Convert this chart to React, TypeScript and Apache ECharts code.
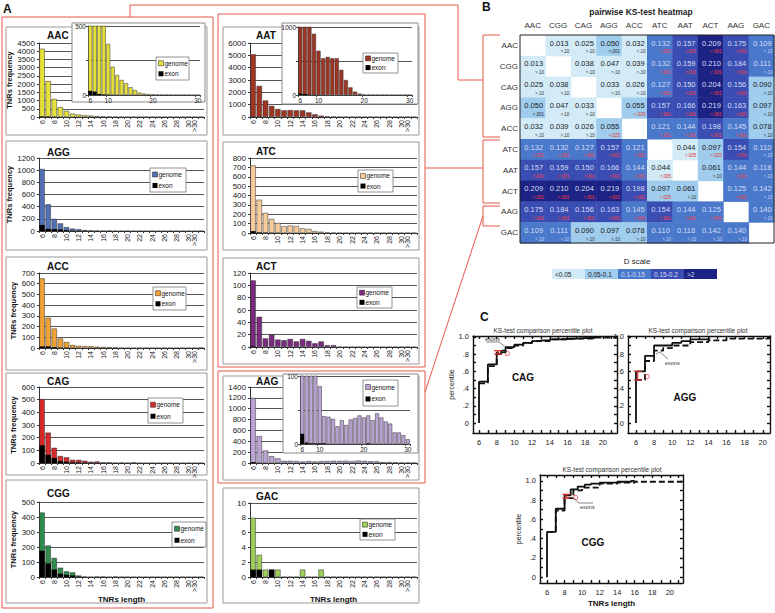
import React, { useEffect, useRef } from "react";
import * as echarts from "echarts";

const FONT = "'Liberation Sans', Arial, sans-serif";
const RED = "#e4564a";

// ---------------- DATA ----------------
const LENGTHS = ["6","7","8","9","10","11","12","13","14","15","16","17","18","19","20","21","22","23","24","25","26","27","28","29","30",">30",">40"];
const INSET_LENGTHS = LENGTHS.slice(0, 25);

const AAC_GENOME = [4150,2180,1100,600,370,205,145,109,85,56,36,17,10,6,4,3,2,1,1,0,0,1,0,0,0,0,0];
const AAC_EXON = [30,25,8,4,2,1,0,0,0,0,0,0,0,0,0,0,0,0,0,0,0,0,0,0,0,0,0];
const AGG_GENOME = [1020,440,200,125,65,40,30,15,10,8,5,8,3,0,2,0,0,0,0,0,0,0,0,0,0,0,0];
const AGG_EXON = [100,35,30,25,12,5,3,2,1,0,0,0,0,0,0,0,0,0,0,0,0,0,0,0,0,0,0];
const ACC_GENOME = [650,282,182,88,56,28,20,18,17,12,10,8,6,0,0,0,0,0,0,0,0,0,0,0,0,0,4];
const ACC_EXON = [15,15,8,3,2,1,0,0,0,0,0,0,0,0,0,0,0,0,0,0,0,0,0,0,0,0,0];
const CAG_GENOME = [505,240,120,55,45,25,25,18,10,12,5,5,2,4,1,5,0,0,0,0,0,0,0,0,0,0,0];
const CAG_EXON = [140,65,40,15,10,5,4,3,2,2,1,1,0,0,0,0,0,0,0,0,0,0,0,0,0,0,0];
const CGG_GENOME = [430,210,127,62,38,31,10,3,0,3,3,0,3,0,0,0,0,0,0,0,0,0,0,0,0,0,0];
const CGG_EXON = [175,90,50,22,15,10,3,0,0,0,0,0,0,0,0,0,0,0,0,0,0,0,0,0,0,0,0];
const AAT_GENOME = [5090,2520,1340,900,650,540,560,540,540,370,220,112,50,20,8,5,3,2,1,1,0,0,0,0,0,0,0];
const AAT_EXON = [20,15,5,3,2,1,0,0,0,0,0,0,0,0,0,0,0,0,0,0,0,0,0,0,0,0,0];
const ATC_GENOME = [720,355,215,150,108,72,79,75,50,43,21,14,5,2,0,0,0,0,0,0,0,0,0,0,0,0,0];
const ATC_EXON = [20,6,3,2,1,0,0,0,0,0,0,0,0,0,0,0,0,0,0,0,0,0,0,0,0,0,0];
const ACT_GENOME = [108,49,14,20,12,11,13,9,13,10,6,9,3,3,0,0,0,0,0,0,0,0,0,0,0,0,0];
const ACT_EXON = [1,0,0,0,0,0,0,0,0,0,0,0,0,0,0,0,0,0,0,0,0,0,0,0,0,0,0];
const AAG_GENOME = [1200,495,230,124,85,41,40,37,26,35,28,36,38,42,39,42,35,45,39,33,30,17,17,13,7,6,4];
const AAG_EXON = [15,2,1,1,1,1,0,0,0,0,0,0,0,0,0,1,0,0,0,0,0,0,0,0,0,0,0];
const GAC_GENOME = [8,3,1,1,1,0,0,0,1,0,0,1,0,0,0,0,0,0,0,0,0,0,0,0,0,0,0];
const GAC_EXON = [1,1,0,1,0,0,0,0,0,0,0,0,0,0,0,0,0,0,0,0,0,0,0,0,0,0,0];

const HEAT_LABELS = ["AAC","CGG","CAG","AGG","ACC","ATC","AAT","ACT","AAG","GAC"];
const HEAT_D = [
  [null,0.013,0.025,0.050,0.032,0.132,0.157,0.209,0.175,0.109],
  [0.013,null,0.038,0.047,0.039,0.132,0.159,0.210,0.184,0.111],
  [0.025,0.038,null,0.033,0.026,0.127,0.150,0.204,0.156,0.090],
  [0.050,0.047,0.033,null,0.055,0.157,0.166,0.219,0.163,0.097],
  [0.032,0.039,0.026,0.055,null,0.121,0.144,0.198,0.145,0.078],
  [0.132,0.132,0.127,0.157,0.121,null,0.044,0.097,0.154,0.110],
  [0.157,0.159,0.150,0.166,0.144,0.044,null,0.061,0.144,0.118],
  [0.209,0.210,0.204,0.219,0.198,0.097,0.061,null,0.125,0.142],
  [0.175,0.184,0.156,0.163,0.145,0.154,0.144,0.125,null,0.140],
  [0.109,0.111,0.090,0.097,0.078,0.110,0.118,0.142,0.140,null],
];
const HEAT_P = [
  ["",">.10",">.10","<.001",">.10","<.001","<.001","<.001","<.001",">.10"],
  [">.10","",">.10",">.10",">.10","<.001","<.001","<.001","<.001",">.10"],
  [">.10",">.10","",">.10",">.10","<.001","<.001","<.001","<.001",">.10"],
  ["<.001",">.10",">.10","","<.025","<.001","<.001","<.001","<.001",">.10"],
  [">.10",">.10",">.10","<.025","","<.001","<.001","<.001","<.001",">.10"],
  ["<.001","<.001","<.001","<.001","<.001","","<.005","<.025","<.001",">.10"],
  ["<.001","<.001","<.001","<.001","<.001","<.005","",">.10","<.001",">.10"],
  ["<.001","<.001","<.001","<.001","<.001","<.025",">.10","","<.001",">.10"],
  ["<.001","<.001","<.001","<.001","<.001","<.001","<.001","<.001","",">.10"],
  [">.10",">.10",">.10",">.10",">.10",">.10",">.10",">.10",">.10",""],
];
const D_SCALE_LABELS = ["<0.05","0.05-0.1","0.1-0.15","0.15-0.2",">2"];

const CAG_GEN_X = [6,6,7,8,8.5,9,10,11,12,13,14,15,16,17,18,19,19.5];
const CAG_GEN_Y = [0,0.48,0.68,0.80,0.84,0.88,0.91,0.93,0.95,0.96,0.97,0.975,0.98,0.985,0.99,1.0,1.0];
const CAG_EXO_X = [6,7,8,9,10,11,12,14,16,19,21.4];
const CAG_EXO_Y = [0.46,0.66,0.82,0.87,0.90,0.93,0.95,0.97,0.98,0.99,1.0];
const AGG_GEN_X = [6,6,7,8,10,11,12,14,14.2];
const AGG_GEN_Y = [0,0.60,0.78,0.90,0.93,0.95,0.97,0.98,0.98];
const AGG_EXO_X = [6,7,8,9,10,12,14,16,20.7];
const AGG_EXO_Y = [0.50,0.72,0.84,0.87,0.90,0.94,0.96,0.98,0.99];
const CGG_GEN_X = [6,6,7,8,8.7,9.5,10.3,11,12,14,15.6,16];
const CGG_GEN_Y = [0,0.47,0.71,0.85,0.91,0.94,0.96,0.97,0.98,0.99,1.0,1.0];
const CGG_EXO_X = [6,7,8,9,10,12,14,16,21.4];
const CGG_EXO_Y = [0.47,0.69,0.82,0.90,0.93,0.97,0.98,0.99,0.995];
const CDF_X_LABELS = [6,8,10,12,14,16,18,20];
const CDF_X_TICKS = [6,7,8,9,10,11,12,13,14,15,16,17,18,19,20,21];
const CDF_Y_LABELS = [0,0.2,0.4,0.6,0.8,1.0];
const CDF_Y_TICKS = [0,0.1,0.2,0.3,0.4,0.5,0.6,0.7,0.8,0.9,1.0];

// ---------------- LAYOUT ----------------
const BAR_CHARTS: any[] = [
  { key: "AAC", color: "#e6e03a", genome: AAC_GENOME, exon: AAC_EXON, yMax: 4500, yStep: 500, col: 0, box: [6,27,201,108], top: 43, zero: 117, titleY: 35,
    inset: { box: [72,23,133,79], left: 88, right: 200, top: 26, zero: 95, max: 500, legend: [156,57,33,23] } },
  { key: "AGG", color: "#5170b5", genome: AGG_GENOME, exon: AGG_EXON, yMax: 1200, yStep: 200, col: 0, box: [6,141,201,109], top: 158, zero: 231, titleY: 152, legend: [150,168,36,24] },
  { key: "ACC", color: "#f0a235", genome: ACC_GENOME, exon: ACC_EXON, yMax: 700, yStep: 100, col: 0, box: [6,257,201,113], top: 273, zero: 348, titleY: 266, legend: [153,287,33,23] },
  { key: "CAG", color: "#d8282a", genome: CAG_GENOME, exon: CAG_EXON, yMax: 600, yStep: 100, col: 0, box: [6,373,201,102], top: 387, zero: 463, titleY: 381, legend: [148,398,35,25] },
  { key: "CGG", color: "#2e8c4c", genome: CGG_GENOME, exon: CGG_EXON, yMax: 500, yStep: 100, col: 0, box: [6,480,201,123], top: 502, zero: 577, titleY: 493, legend: [172,522,34,25], xName: true },
  { key: "AAT", color: "#9e3523", genome: AAT_GENOME, exon: AAT_EXON, yMax: 6000, yStep: 1000, col: 1, box: [223,27,196,108], top: 43, zero: 117, titleY: 35,
    inset: { box: [282,23,136,81], left: 298, right: 412, top: 27, zero: 95, max: 1000, legend: [363,53,35,20] } },
  { key: "ATC", color: "#f6cc9c", genome: ATC_GENOME, exon: ATC_EXON, yMax: 800, yStep: 100, col: 1, box: [223,142,196,108], top: 158, zero: 233, titleY: 151, legend: [358,170,35,22] },
  { key: "ACT", color: "#7a2a7e", genome: ACT_GENOME, exon: ACT_EXON, yMax: 120, yStep: 20, col: 1, box: [223,258,196,106], top: 273, zero: 347, titleY: 266, legend: [357,287,35,21] },
  { key: "AAG", color: "#baa4d4", genome: AAG_GENOME, exon: AAG_EXON, yMax: 1400, yStep: 200, col: 1, box: [223,376,196,104], top: 387, zero: 463, titleY: 381,
    inset: { box: [283,374,135,79], left: 300, right: 410, top: 376, zero: 444, max: 100, legend: [363,380,35,26] } },
  { key: "GAC", color: "#9fcf58", genome: GAC_GENOME, exon: GAC_EXON, yMax: 10, yStep: 2, col: 1, box: [223,488,196,115], top: 503, zero: 577, titleY: 496, legend: [360,519,35,21], xName: true },
];

const CDF_PLOTS: any[] = [
  { key: "CAG", grid: [473,336,144,97], xMin: 5.32, xMax: 21.6, yMin: -0.116, yMax: 1.01, gx: CAG_GEN_X, gy: CAG_GEN_Y, ex: CAG_EXO_X, ey: CAG_EXO_Y, d: [8.15,0.80,0.84], label: [523,377], title: [543,330], yName: true },
  { key: "AGG", grid: [628,336,142,97], xMin: 5.12, xMax: 20.8, yMin: -0.116, yMax: 1.01, gx: AGG_GEN_X, gy: AGG_GEN_Y, ex: AGG_EXO_X, ey: AGG_EXO_Y, d: [6.2,0.50,0.60], label: [685,397], title: [698,330] },
  { key: "CGG", grid: [540,475,143,108], xMin: 5.2, xMax: 21.5, yMin: -0.06, yMax: 1.06, gx: CGG_GEN_X, gy: CGG_GEN_Y, ex: CGG_EXO_X, ey: CGG_EXO_Y, d: [8.2,0.82,0.86], label: [593,542], title: [612,469], yName: true, xName: true },
];

// ---------------- HELPERS ----------------
const txt = (text: string, x: number, y: number, o: any = {}) => ({
  type: "text", x, y, z: o.z ?? 20, silent: true, rotation: o.rotation ?? 0,
  style: { text, fill: o.color ?? "#111", font: o.font ?? `8px ${FONT}`, textAlign: o.align ?? "left", textVerticalAlign: o.va ?? "middle" },
});
const rect = (x: number, y: number, w: number, h: number, o: any = {}) => ({
  type: "rect", z: o.z ?? 0, silent: true, shape: { x, y, width: w, height: h },
  style: { fill: o.fill ?? "#fff", stroke: o.stroke ?? "none", lineWidth: o.lw ?? 1 },
});
const poly = (points: number[][], o: any = {}) => ({
  type: "polyline", z: o.z ?? 30, silent: true, shape: { points },
  style: { fill: "none", stroke: o.stroke ?? RED, lineWidth: o.lw ?? 1 },
});

function legendEls(l: number[], color: string, z: number) {
  const [x, y, w, h] = l;
  const r1 = y + h * 0.27, r2 = y + h * 0.73;
  return [
    rect(x, y, w, h, { stroke: "#777", lw: 0.8, z }),
    rect(x + 2.5, r1 - 2.5, 5, 5, { fill: color, stroke: "#222", lw: 0.5, z: z + 1 }),
    txt("genome", x + 8.5, r1, { font: `6.5px ${FONT}`, z: z + 1 }),
    rect(x + 2.5, r2 - 2.5, 5, 5, { fill: "#000", z: z + 1 }),
    txt("exon", x + 8.5, r2, { font: `6.5px ${FONT}`, z: z + 1 }),
  ];
}

function dColor(v: number) {
  if (v < 0.05) return "#d3ebf7";
  if (v < 0.1) return "#a0cdee";
  if (v < 0.15) return "#4a78cb";
  if (v < 0.2) return "#3a4db2";
  return "#1c2384";
}

function buildOption() {
  const grid: any[] = [], xAxis: any[] = [], yAxis: any[] = [], series: any[] = [], graphic: any[] = [];

  // ---- panel A bar charts ----
  BAR_CHARTS.forEach((s) => {
    const left = s.col === 0 ? 39 : 250;
    const right = s.col === 0 ? 204 : 417;
    graphic.push(rect(s.box[0], s.box[1], s.box[2], s.box[3], { stroke: "#9a9a9a", lw: 1, z: -5 }));
    graphic.push(txt(s.key, s.col === 0 ? 47 : 256, s.titleY, { font: `bold 10px ${FONT}`, z: 4 }));
    if (s.legend) graphic.push(...legendEls(s.legend, s.color, 12));
    const gi = grid.length;
    grid.push({ left, top: s.top, width: right - left, height: s.zero - s.top });
    xAxis.push({
      gridIndex: gi, type: "category", data: LENGTHS, z: 1,
      axisLine: { lineStyle: { color: "#333", width: 1 } },
      axisTick: { show: true, interval: 0, length: 2, lineStyle: { color: "#333" } },
      axisLabel: { rotate: 90, fontSize: 7, color: "#222", fontFamily: FONT, margin: 3, interval: (i: number) => i % 2 === 0 || i >= 25 },
      name: s.xName ? "TNRs length" : "", nameLocation: "middle", nameGap: 17,
      nameTextStyle: { fontWeight: "bold", fontSize: 8, color: "#111", fontFamily: FONT },
    });
    yAxis.push({
      gridIndex: gi, type: "value", min: 0, max: s.yMax, interval: s.yStep, z: 1,
      axisLine: { show: true, lineStyle: { color: "#333" } },
      axisTick: { show: true, length: 2, lineStyle: { color: "#333" } },
      splitLine: { lineStyle: { color: "#555", width: 1 } },
      axisLabel: { fontSize: 8, margin: 4, color: "#222", fontFamily: FONT, formatter: (v: number) => String(v) },
      name: s.col === 0 ? "TNRs frequency" : "", nameLocation: "middle", nameRotate: 90, nameGap: 22,
      nameTextStyle: { fontWeight: "bold", fontSize: 7.5, color: "#111", fontFamily: FONT },
    });
    series.push({ type: "bar", name: s.key + " genome", xAxisIndex: gi, yAxisIndex: gi, data: s.genome, barCategoryGap: "12%", z: 2,
      itemStyle: { color: s.color, borderColor: "#333", borderWidth: 0.5 } });
    series.push({ type: "bar", name: s.key + " exon", xAxisIndex: gi, yAxisIndex: gi, data: s.exon, barGap: "-100%", barCategoryGap: "12%", z: 3,
      itemStyle: { color: "#000" } });

    if (s.inset) {
      const n = s.inset;
      graphic.push(rect(n.box[0], n.box[1], n.box[2], n.box[3], { stroke: "#8a8a8a", lw: 1, z: 5 }));
      graphic.push(...legendEls(n.legend, s.color, 14));
      const ii = grid.length;
      grid.push({ left: n.left, top: n.top, width: n.right - n.left, height: n.zero - n.top });
      xAxis.push({
        gridIndex: ii, type: "category", data: INSET_LENGTHS, z: 6,
        axisLine: { lineStyle: { color: "#444", width: 1 } },
        axisTick: { show: true, interval: (i: number, v: string) => ["6", "10", "20", "30"].includes(v), length: 2, lineStyle: { color: "#444" } },
        axisLabel: { fontSize: 6.5, color: "#222", margin: 2, fontFamily: FONT, interval: (i: number, v: string) => ["6", "10", "20", "30"].includes(v) },
      });
      yAxis.push({
        gridIndex: ii, type: "value", min: 0, max: n.max, interval: n.max / 2, z: 6,
        axisLine: { show: true, lineStyle: { color: "#444" } },
        axisTick: { show: true, length: 2, lineStyle: { color: "#444" } },
        splitLine: { lineStyle: { color: "#555", width: 1 } },
        axisLabel: { fontSize: 6.5, margin: 2, color: "#222", fontFamily: FONT, formatter: (v: number) => (v === n.max / 2 ? "" : String(v)) },
      });
      series.push({ type: "bar", name: s.key + " genome inset", xAxisIndex: ii, yAxisIndex: ii, data: s.genome.slice(0, 25), barCategoryGap: "10%", z: 7, clip: true,
        itemStyle: { color: s.color, borderColor: "#333", borderWidth: 0.5 } });
      series.push({ type: "bar", name: s.key + " exon inset", xAxisIndex: ii, yAxisIndex: ii, data: s.exon.slice(0, 25), barGap: "-100%", barCategoryGap: "10%", z: 8, clip: true,
        itemStyle: { color: "#000" } });
    }
  });

  // ---- panel B heatmap ----
  const hg = grid.length;
  grid.push({ left: 520, top: 35, width: 254, height: 208, show: true, borderColor: "#222", borderWidth: 1, backgroundColor: "transparent", z: 10 });
  xAxis.push({ gridIndex: hg, type: "category", data: HEAT_LABELS, position: "top", axisLine: { show: false }, axisTick: { show: false }, splitLine: { show: false },
    axisLabel: { fontSize: 8, color: "#333", margin: 6, fontFamily: FONT, interval: 0 } });
  yAxis.push({ gridIndex: hg, type: "category", data: HEAT_LABELS, inverse: true, axisLine: { show: false }, axisTick: { show: false }, splitLine: { show: false },
    axisLabel: { fontSize: 8, color: "#333", margin: 2, fontFamily: FONT, interval: 0 } });
  const heatData: any[] = [];
  HEAT_D.forEach((row, r) => row.forEach((v, c) => { if (v !== null) heatData.push([c, r, v]); }));
  series.push({
    type: "custom", name: "KS heatmap", xAxisIndex: hg, yAxisIndex: hg, data: heatData, z: 3,
    renderItem: (params: any, api: any) => {
      const c = api.value(0), r = api.value(1), v = api.value(2);
      const p = HEAT_P[r][c];
      const pt = api.coord([c, r]);
      const sz = api.size([1, 1]);
      const x0 = pt[0] - sz[0] / 2, y0 = pt[1] - sz[1] / 2;
      const dark = v >= 0.1;
      let pc: string;
      if (p === ">.10") pc = dark ? "#c9d4f2" : "#333";
      else if (dark) pc = "#ff3b3b";
      else pc = p === "<.001" ? "#222" : "#e0302a";
      return {
        type: "group", children: [
          { type: "rect", shape: { x: x0, y: y0, width: sz[0] + 0.5, height: sz[1] + 0.5 }, style: { fill: dColor(v) } },
          { type: "text", x: pt[0] + 1, y: y0 + 8, style: { text: v.toFixed(3), fill: dark ? "#d5def5" : "#1a1a1a", font: `7.5px ${FONT}`, textAlign: "center", textVerticalAlign: "middle" } },
          { type: "text", x: x0 + sz[0] - 1.5, y: y0 + sz[1] - 4, style: { text: p, fill: pc, font: `4.5px ${FONT}`, textAlign: "right", textVerticalAlign: "middle" } },
        ],
      };
    },
  });
  // D scale legend
  graphic.push(txt("D scale", 637, 261, { font: `8px ${FONT}`, align: "center", color: "#222" }));
  const scaleVals = [0.02, 0.07, 0.12, 0.17, 0.25];
  D_SCALE_LABELS.forEach((lab, i) => {
    graphic.push(rect(552 + i * 33, 269, 33, 10, { fill: dColor(scaleVals[i]), z: 2 }));
    graphic.push(txt(lab, 555 + i * 33, 274, { font: `6.5px ${FONT}`, color: i < 2 ? "#222" : "#d5def5", z: 3 }));
  });

  // ---- panel C CDF plots ----
  CDF_PLOTS.forEach((s) => {
    const gi = grid.length;
    grid.push({ left: s.grid[0], top: s.grid[1], width: s.grid[2], height: s.grid[3] });
    const ls = { color: "#111", width: 1.4 };
    const xt = CDF_X_TICKS.filter((v) => v > s.xMin && v < s.xMax);
    const xi = xAxis.length;
    xAxis.push({ gridIndex: gi, type: "value", min: s.xMin, max: s.xMax, axisLine: { onZero: false, lineStyle: ls },
      axisTick: { inside: true, length: 3, customValues: xt, lineStyle: ls },
      axisLabel: { customValues: CDF_X_LABELS, fontSize: 7.5, color: "#222", margin: 5, fontFamily: FONT }, splitLine: { show: false },
      name: s.xName ? "TNRs length" : "", nameLocation: "middle", nameGap: 16, nameTextStyle: { fontWeight: "bold", fontSize: 8, color: "#111", fontFamily: FONT } });
    xAxis.push({ gridIndex: gi, type: "value", position: "top", min: s.xMin, max: s.xMax, axisLine: { onZero: false, lineStyle: ls },
      axisTick: { inside: true, length: 3, customValues: xt, lineStyle: ls }, axisLabel: { show: false }, splitLine: { show: false } });
    const yi = yAxis.length;
    const fmt = (v: number) => (Math.abs(v) < 1e-6 ? "0" : Math.abs(v - 1) < 1e-6 ? "1.0" : "." + Math.round(v * 10));
    yAxis.push({ gridIndex: gi, type: "value", min: s.yMin, max: s.yMax, axisLine: { onZero: false, lineStyle: ls },
      axisTick: { inside: true, length: 3, customValues: CDF_Y_TICKS, lineStyle: ls },
      axisLabel: { customValues: CDF_Y_LABELS, formatter: fmt, fontSize: 7.5, color: "#222", margin: 4, fontFamily: FONT }, splitLine: { show: false },
      name: s.yName ? "percentile" : "", nameLocation: "middle", nameRotate: 90, nameGap: 13, nameTextStyle: { fontSize: 7, color: "#111", fontFamily: FONT } });
    yAxis.push({ gridIndex: gi, type: "value", position: "right", min: s.yMin, max: s.yMax, axisLine: { onZero: false, lineStyle: ls },
      axisTick: { inside: true, length: 3, customValues: CDF_Y_TICKS, lineStyle: ls }, axisLabel: { show: false }, splitLine: { show: false } });
    series.push({ type: "line", name: s.key + " genome cdf", xAxisIndex: xi, yAxisIndex: yi, step: "end", symbol: "none",
      data: s.gx.map((x: number, i: number) => [x, s.gy[i]]), lineStyle: { color: "#111", width: 1.8 }, z: 4 });
    series.push({ type: "line", name: s.key + " exon cdf", xAxisIndex: xi, yAxisIndex: yi, step: "end", symbol: "none",
      data: s.ex.map((x: number, i: number) => [x, s.ey[i]]), lineStyle: { color: "#111", width: 1.8, type: [6, 3] }, z: 4 });
    series.push({
      type: "custom", name: s.key + " D", xAxisIndex: xi, yAxisIndex: yi, data: [s.d], z: 6,
      renderItem: (params: any, api: any) => {
        const x = api.value(0), y1 = api.value(1), y2 = api.value(2);
        const p1 = api.coord([x, y1]), p2 = api.coord([x, y2]);
        const st = { stroke: "#e0302a", lineWidth: 1.2 };
        return { type: "group", children: [
          { type: "line", shape: { x1: p1[0], y1: p1[1], x2: p2[0], y2: p2[1] }, style: st },
          { type: "line", shape: { x1: p1[0] - 4, y1: p1[1], x2: p1[0] + 4, y2: p1[1] }, style: st },
          { type: "line", shape: { x1: p2[0] - 4, y1: p2[1], x2: p2[0] + 4, y2: p2[1] }, style: st },
          { type: "text", x: p1[0] + 7, y: (p1[1] + p2[1]) / 2 + 1, style: { text: "D", fill: "#e0302a", font: `7px ${FONT}`, textVerticalAlign: "middle" } },
        ] };
      },
    });
    graphic.push(txt("KS-test comparison percentile plot", s.title[0], s.title[1], { font: `6.5px ${FONT}`, align: "center", color: "#333" }));
    graphic.push(txt(s.key, s.label[0], s.label[1], { font: `bold 10px ${FONT}`, align: "center" }));
  });
  // exons annotations
  graphic.push(txt("exons", 485, 339, { font: `5.5px ${FONT}`, color: "#333" }));
  graphic.push(poly([[486, 342], [499, 342], [507, 348]], { stroke: "#333", lw: 0.6 }));
  graphic.push(txt("exons", 665, 363, { font: `5.5px ${FONT}`, color: "#333" }));
  graphic.push(poly([[668, 359], [660, 352], [656, 354]], { stroke: "#333", lw: 0.6 }));
  graphic.push(txt("exons", 580, 507, { font: `5.5px ${FONT}`, color: "#333" }));
  graphic.push(poly([[573, 498], [579, 503], [593, 503]], { stroke: "#333", lw: 0.6 }));

  // ---- panel letters & titles ----
  graphic.push(txt("A", 3, 9, { font: `bold 12px ${FONT}` }));
  graphic.push(txt("B", 482, 7, { font: `bold 12px ${FONT}` }));
  graphic.push(txt("C", 480, 317, { font: `bold 12px ${FONT}` }));
  graphic.push(txt("pairwise KS-test heatmap", 641, 12, { font: `bold 8.5px ${FONT}`, align: "center", color: "#222" }));

  // ---- red frames & connectors ----
  graphic.push(poly([[130, 17], [2, 17], [2, 608], [213, 608], [213, 17], [130, 17]]));
  graphic.push(poly([[130, 17], [130, 5], [458, 5], [458, 80], [483, 80]]));
  graphic.push(poly([[218, 14], [425, 14], [425, 367], [218, 367], [218, 14]]));
  graphic.push(poly([[425, 168], [483, 168]]));
  graphic.push(poly([[218, 371], [425, 371], [425, 483], [218, 483], [218, 371]]));
  graphic.push(poly([[425, 392], [483, 216]]));
  graphic.push(poly([[500, 35], [483, 35], [483, 137], [500, 137]]));
  graphic.push(poly([[500, 140], [483, 140], [483, 203], [500, 203]]));
  graphic.push(poly([[500, 206], [483, 206], [483, 226], [500, 226]]));

  return {
    animation: false,
    backgroundColor: "#fff",
    textStyle: { fontFamily: FONT },
    grid, xAxis, yAxis, series,
    graphic: { elements: graphic },
  };
}

export default function App() {
  const ref = useRef<HTMLDivElement>(null);
  useEffect(() => {
    const chart = echarts.init(ref.current as HTMLDivElement, null, { renderer: "svg" });
    chart.setOption(buildOption() as any);
    return () => chart.dispose();
  }, []);
  return <div ref={ref} style={{ position: "fixed", left: 0, top: 0, width: 775, height: 613, background: "#fff" }} />;
}
